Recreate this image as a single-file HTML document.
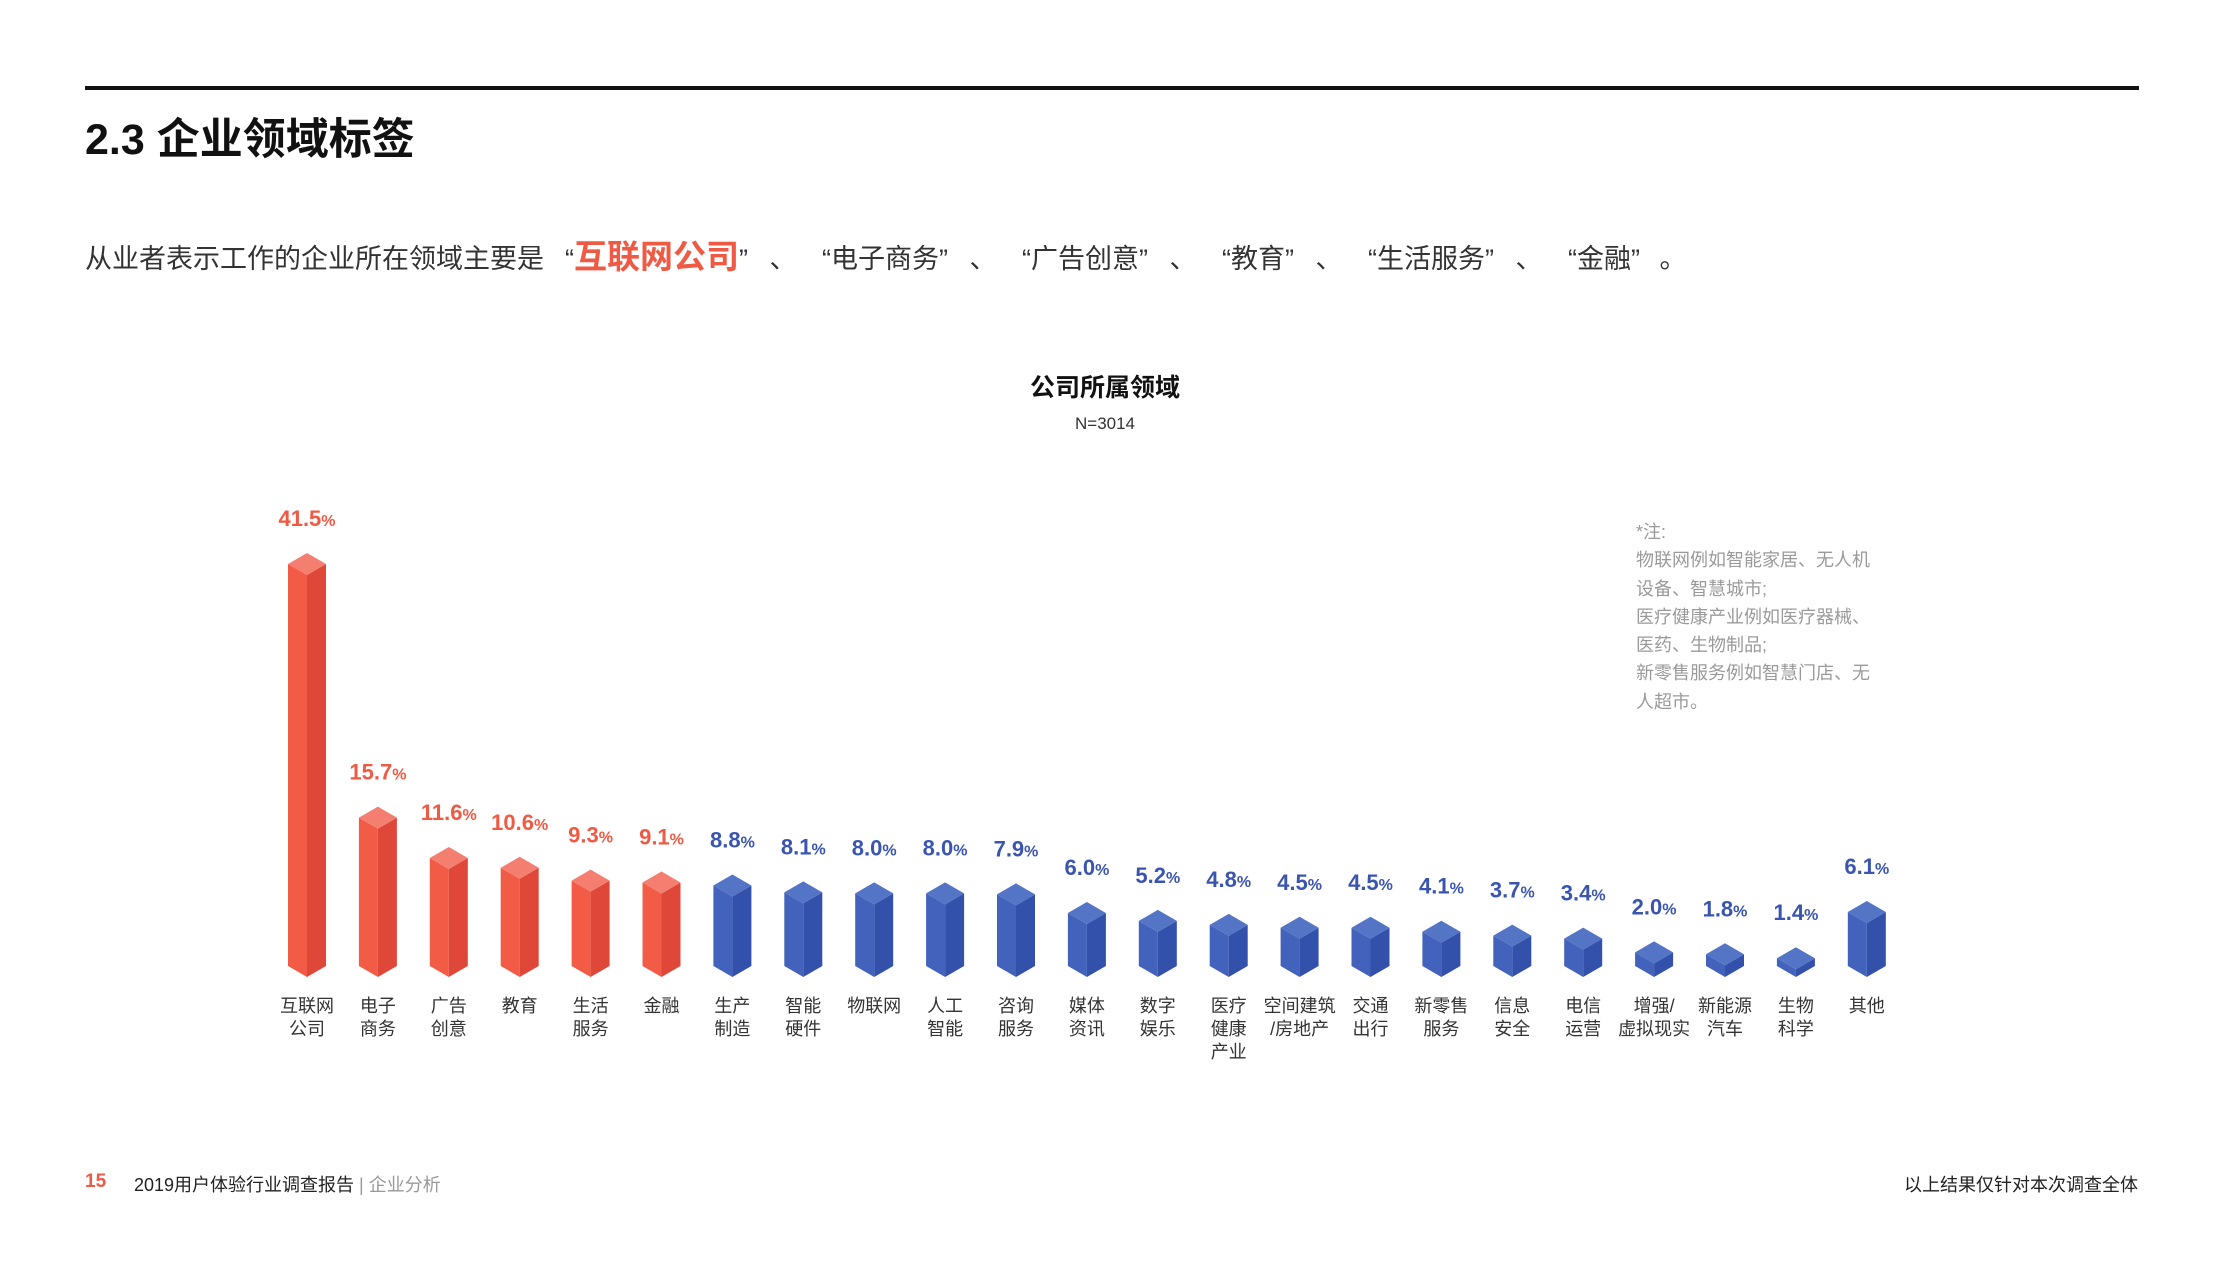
<!DOCTYPE html>
<html><head><meta charset="utf-8">
<style>
html,body{margin:0;padding:0;background:#fff;}
body{width:2220px;height:1276px;position:relative;overflow:hidden;font-family:"Liberation Sans","Noto Sans CJK SC",sans-serif;}
.abs{position:absolute;white-space:nowrap;}
.q{display:inline-block;text-align:center;}
</style></head>
<body>
<div class="abs" style="left:85px;top:86px;width:2054px;height:4px;background:#111;"></div>
<div class="abs" style="left:85px;top:105px;font-size:43px;font-weight:bold;color:#111;">2.3 企业领域标签</div>
<div class="abs" style="left:85px;top:230px;font-size:27px;color:#333;">从业者表示工作的企业所在领域主要是<span class="q" style="width:30px;text-align:right;">“</span><span style="color:#ef5a44;font-weight:bold;font-size:33px;">互联网公司</span><span class="q" style="width:24px;text-align:left;">”</span><span class="q" style="width:40px;">、</span><span class="q" style="width:28px;text-align:right;">“</span>电子商务<span class="q" style="width:24px;text-align:left;">”</span><span class="q" style="width:40px;">、</span><span class="q" style="width:28px;text-align:right;">“</span>广告创意<span class="q" style="width:24px;text-align:left;">”</span><span class="q" style="width:40px;">、</span><span class="q" style="width:28px;text-align:right;">“</span>教育<span class="q" style="width:24px;text-align:left;">”</span><span class="q" style="width:40px;">、</span><span class="q" style="width:28px;text-align:right;">“</span>生活服务<span class="q" style="width:24px;text-align:left;">”</span><span class="q" style="width:40px;">、</span><span class="q" style="width:28px;text-align:right;">“</span>金融<span class="q" style="width:24px;text-align:left;">”</span><span class="q" style="width:36px;">。</span></div>
<div class="abs" style="left:0;width:2210px;text-align:center;top:368px;font-size:25px;font-weight:bold;color:#111;">公司所属领域</div>
<div class="abs" style="left:0;width:2210px;text-align:center;top:414px;font-size:17px;color:#333;">N=3014</div>
<div class="abs" style="left:1636px;top:518px;font-size:18px;line-height:28.3px;color:#9a9a9a;">*注:<br>物联网例如智能家居、无人机<br>设备、智慧城市;<br>医疗健康产业例如医疗器械、<br>医药、生物制品;<br>新零售服务例如智慧门店、无<br>人超市。</div>

<svg id="chart" width="2220" height="1276" style="position:absolute;left:0;top:0;"></svg>

<div class="abs" style="left:85px;top:1171px;font-size:19px;color:#ef5a44;font-weight:bold;">15</div>
<div class="abs" style="left:134px;top:1171px;font-size:18px;color:#222;">2019用户体验行业调查报告 <span style="color:#999;">| 企业分析</span></div>
<div class="abs" style="right:82px;top:1171px;font-size:18px;color:#222;">以上结果仅针对本次调查全体</div>

<script>
const categories = ["互联网\n公司","电子\n商务","广告\n创意","教育","生活\n服务","金融","生产\n制造","智能\n硬件","物联网","人工\n智能","咨询\n服务","媒体\n资讯","数字\n娱乐","医疗\n健康\n产业","空间建筑\n/房地产","交通\n出行","新零售\n服务","信息\n安全","电信\n运营","增强/\n虚拟现实","新能源\n汽车","生物\n科学","其他"];
const values = [41.5,15.7,11.6,10.6,9.3,9.1,8.8,8.1,8.0,8.0,7.9,6.0,5.2,4.8,4.5,4.5,4.1,3.7,3.4,2.0,1.8,1.4,6.1];
const highlighted = [1,1,1,1,1,1,0,0,0,0,0,0,0,0,0,0,0,0,0,0,0,0,0];

const svg = document.getElementById('chart');
const NS = 'http://www.w3.org/2000/svg';
const x0 = 307, pitch = 70.9, baseY = 977, halfW = 19, cap = 11;
function xPos(i){ return x0 + i*pitch; }
function hScale(v){ return 16 + 9.83*v; }

values.forEach((v,i)=>{
  const cx = xPos(i), top = baseY - hScale(v);
  const red = highlighted[i]===1;
  const cL = red ? '#f25c47' : '#4262bb', cR = red ? '#df4739' : '#3350aa', cT = red ? '#f47e70' : '#5474c6';
  const g = document.createElementNS(NS,'g');
  
  
  const left = document.createElementNS(NS,'polygon');
  left.setAttribute('points', `${cx-halfW},${top+cap} ${cx},${top+2*cap} ${cx},${baseY} ${cx-halfW},${baseY-cap}`);
  left.setAttribute('fill', cL);
  const right = document.createElementNS(NS,'polygon');
  right.setAttribute('points', `${cx},${top+2*cap} ${cx+halfW},${top+cap} ${cx+halfW},${baseY-cap} ${cx},${baseY}`);
  right.setAttribute('fill', cR);
  const tp = document.createElementNS(NS,'polygon');
  tp.setAttribute('points', `${cx-halfW},${top+cap} ${cx},${top} ${cx+halfW},${top+cap} ${cx},${top+2*cap}`);
  tp.setAttribute('fill', cT);
  g.appendChild(left); g.appendChild(right); g.appendChild(tp);
  svg.appendChild(g);

  const t = document.createElementNS(NS,'text');
  
  
  t.setAttribute('x', cx); t.setAttribute('y', top - 27);
  t.setAttribute('text-anchor','middle');
  t.setAttribute('font-size','22'); t.setAttribute('font-weight','bold');
  t.setAttribute('fill', red ? '#ef5a44' : '#3a55b0');
  t.setAttribute('font-family','Liberation Sans, sans-serif');
  t.textContent = v.toFixed(1);
  const pc = document.createElementNS(NS,'tspan');
  pc.setAttribute('font-size','16'); pc.textContent = '%';
  t.appendChild(pc);
  svg.appendChild(t);

  const lines = categories[i].split('\n');
  lines.forEach((ln,k)=>{
    const c = document.createElementNS(NS,'text');
    
    
    c.setAttribute('x', cx); c.setAttribute('y', 1012 + k*23);
    c.setAttribute('text-anchor','middle');
    c.setAttribute('font-size','18'); c.setAttribute('fill','#333');
    c.setAttribute('font-family','Liberation Sans, Noto Sans CJK SC, sans-serif');
    c.textContent = ln;
    svg.appendChild(c);
  });
});
</script>
</body></html>
